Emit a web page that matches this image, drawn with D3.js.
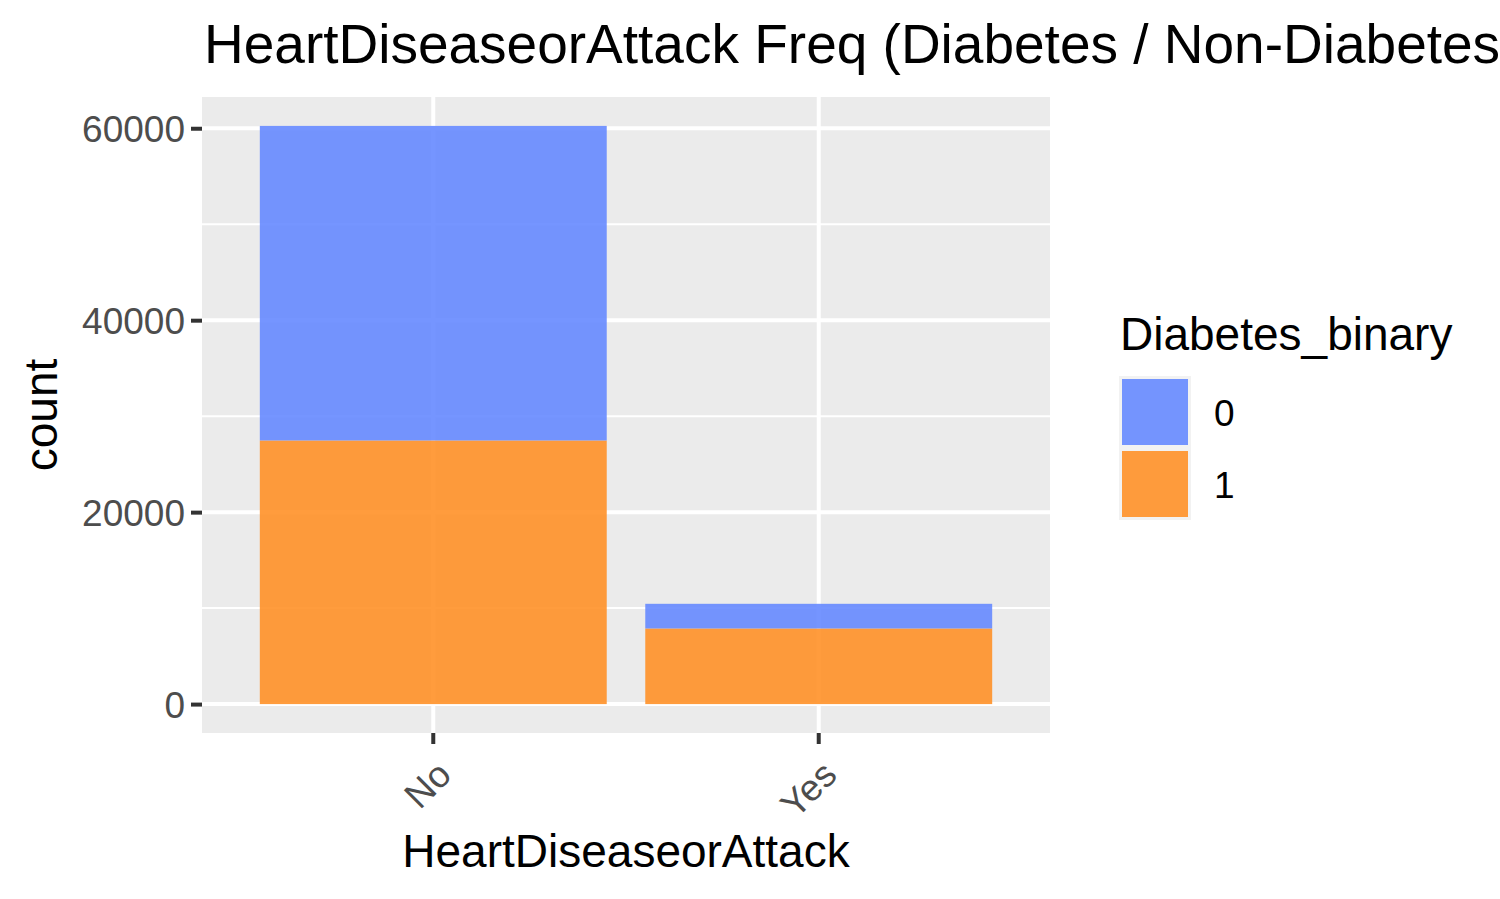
<!DOCTYPE html>
<html>
<head>
<meta charset="utf-8">
<script src="https://cdn.jsdelivr.net/npm/d3@7"></script>
<style>
  body { margin: 0; background: #fff; }
  svg { display: block; font-family: "Liberation Sans", Arial, sans-serif; }
</style>
</head>
<body>
<svg id="chart" width="1500" height="899"></svg>
<script>
// data
const categories = ["No", "Yes"];
const groups = ["0", "1"];
const countNonDiabetes = [32775, 2571];   // Diabetes_binary = 0
const countDiabetes = [27468, 7878];      // Diabetes_binary = 1
const yTicks = [0, 20000, 40000, 60000];
const yMinorTicks = [10000, 30000, 50000];

const colors = { "0": "#6689ff", "1": "#ff9128" };

const W = 1500, H = 899;
const panel = { left: 202, right: 1050, top: 97, bottom: 733 };

const svg = d3.select('#chart');

// build rows for stacking
let rows = categories.map((c, i) => ({ cat: c, "0": countNonDiabetes[i], "1": countDiabetes[i] }));
// ggplot puts group 1 at the bottom of the stack
let stacked = d3.stack().keys(["1", "0"])(rows);
let maxTotal = d3.max(rows, d => d["0"] + d["1"]);

let x = d3.scaleBand()
	.domain(categories)
	.range([panel.left, panel.right])
	.paddingInner(0.1)
	.paddingOuter(0.15);

let y = d3.scaleLinear()
	.domain([-0.05 * maxTotal, 1.05 * maxTotal])
	.range([panel.bottom, panel.top]);

// panel background
svg.append('rect')
	.attr('x', panel.left).attr('y', panel.top)
	.attr('width', panel.right - panel.left).attr('height', panel.bottom - panel.top)
	.attr('fill', '#ebebeb');

// grid lines
let grid = svg.append('g');
grid.selectAll('.minor').data(yMinorTicks).enter().append('line')
	.attr('x1', panel.left).attr('x2', panel.right)
	.attr('y1', d => y(d)).attr('y2', d => y(d))
	.attr('stroke', '#fff').attr('stroke-width', 2);
grid.selectAll('.major').data(yTicks).enter().append('line')
	.attr('x1', panel.left).attr('x2', panel.right)
	.attr('y1', d => y(d)).attr('y2', d => y(d))
	.attr('stroke', '#fff').attr('stroke-width', 4);
grid.selectAll('.vmajor').data(categories).enter().append('line')
	.attr('x1', d => x(d) + x.bandwidth() / 2).attr('x2', d => x(d) + x.bandwidth() / 2)
	.attr('y1', panel.top).attr('y2', panel.bottom)
	.attr('stroke', '#fff').attr('stroke-width', 4);

// bars
svg.append('g').selectAll('g').data(stacked).enter().append('g')
	.attr('fill', d => colors[d.key])
	.attr('fill-opacity', 0.9)
	.selectAll('rect').data(d => d).enter().append('rect')
	.attr('x', d => x(d.data.cat))
	.attr('width', x.bandwidth())
	.attr('y', d => y(d[1]))
	.attr('height', d => y(d[0]) - y(d[1]));

// y axis
let yAxis = d3.axisLeft(y).tickValues(yTicks).tickSize(11).tickPadding(6).tickFormat(d3.format('d'));
let gy = svg.append('g').attr('transform', `translate(${panel.left},0)`).call(yAxis);
gy.select('.domain').remove();
gy.selectAll('.tick line').attr('stroke', '#333').attr('stroke-width', 4);
gy.selectAll('.tick text').attr('fill', '#4d4d4d').style('font-size', '37px')
	.attr('dy', '0.35em');

// x axis
let xAxis = d3.axisBottom(x).tickSize(11).tickPadding(0);
let gx = svg.append('g').attr('transform', `translate(0,${panel.bottom})`).call(xAxis);
gx.select('.domain').remove();
gx.selectAll('.tick line').attr('stroke', '#333').attr('stroke-width', 4);
gx.selectAll('.tick text')
	.attr('fill', '#4d4d4d').style('font-size', '37px')
	.attr('text-anchor', 'end')
	.attr('dy', null).attr('y', null)
	.attr('transform', 'translate(20,44) rotate(-45)');

// axis titles
svg.append('text')
	.attr('x', (panel.left + panel.right) / 2).attr('y', 867)
	.attr('text-anchor', 'middle').style('font-size', '46px')
	.text('HeartDiseaseorAttack');

svg.append('text')
	.attr('transform', `translate(57,${(panel.top + panel.bottom) / 2}) rotate(-90)`)
	.attr('text-anchor', 'middle').style('font-size', '46px')
	.text('count');

// title (runs past the right edge, as in the original)
svg.append('text')
	.attr('x', panel.left + 2).attr('y', 63)
	.style('font-size', '55px')
	.text('HeartDiseaseorAttack Freq (Diabetes / Non-Diabetes)');

// legend
let legend = svg.append('g').attr('transform', 'translate(1119,0)');
legend.append('text').attr('x', 1).attr('y', 350).style('font-size', '46px').text('Diabetes_binary');
let keySize = 72;
let keys = legend.selectAll('.key').data(groups).enter().append('g')
	.attr('transform', (d, i) => `translate(0,${376 + i * keySize})`);
keys.append('rect')
	.attr('width', keySize).attr('height', keySize)
	.attr('fill', '#f2f2f2');
keys.append('rect')
	.attr('x', 3).attr('y', 3)
	.attr('width', keySize - 6).attr('height', keySize - 6)
	.attr('fill', d => colors[d]).attr('fill-opacity', 0.9);
keys.append('text')
	.attr('x', keySize + 23).attr('y', keySize / 2 + 14)
	.style('font-size', '37px')
	.text(d => d);
</script>
</body>
</html>
